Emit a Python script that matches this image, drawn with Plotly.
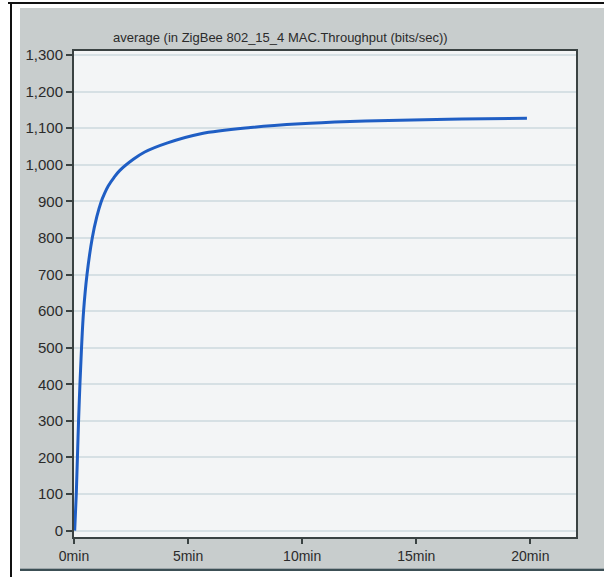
import plotly.graph_objects as go

# Data
time_min = [0.03, 0.10, 0.15, 0.20, 0.26, 0.33, 0.42, 0.57, 0.80, 1.00, 1.18, 1.35, 1.50,
            1.75, 2.00, 2.60, 3.10, 4.10, 5.56, 7.74, 9.93, 12.1, 14.3, 17.0, 19.85]
throughput = [0, 100, 200, 300, 400, 500, 600, 700, 800, 858, 897, 923, 942,
              965, 984, 1015, 1035, 1060, 1085, 1102, 1112, 1118, 1122, 1125, 1127]
x_tick_vals = [0, 5, 10, 15, 20]
x_tick_text = ["0min", "5min", "10min", "15min", "20min"]
y_tick_vals = list(range(0, 1301, 100))
title_text = "average (in ZigBee 802_15_4 MAC.Throughput (bits/sec))"

W, H = 604, 577
L, R, T, B = 74, 28, 51, 40
PW, PH = W - L - R, H - T - B


def px(xp):
    return (xp - L) / PW


def py(yp):
    return (H - B - yp) / PH


fig = go.Figure()
fig.add_trace(go.Scatter(
    x=time_min, y=throughput, mode="lines",
    line=dict(color="#1f5ec4", width=3, shape="spline", smoothing=1.0),
    hoverinfo="skip", showlegend=False,
))

font = dict(family="Liberation Sans, Arial, sans-serif", size=14, color="#2b2b2b")

shapes = []


def rect(x0, y0, x1, y1, color):
    shapes.append(dict(type="rect", xref="paper", yref="paper",
                       x0=px(x0), x1=px(x1), y0=py(y1), y1=py(y0),
                       fillcolor=color, line=dict(width=0), layer="below"))


# white margins around the gray panel
rect(0, 0, 20, H, "white")
rect(0, 0, W, 8, "white")
rect(0, 568, W, H, "white")
# frame lines
rect(10, 2, 12, H, "#111111")
rect(8, 2, W, 4, "#111111")
rect(20, 568.5, W, 571, "#3c4f55")

fig.update_layout(
    width=W, height=H,
    margin=dict(l=L, r=R, t=T, b=B, pad=0),
    paper_bgcolor="#c8cdcd",
    plot_bgcolor="#f3f5f6",
    font=font,
    shapes=shapes,
    annotations=[dict(text=title_text, xref="paper", yref="paper",
                      x=px(280), y=py(38), xanchor="center", yanchor="middle",
                      showarrow=False, font=dict(size=13, color="#2b2b2b",
                                                  family="Liberation Sans, Arial, sans-serif"))],
    xaxis=dict(range=[0, 22], tickvals=x_tick_vals, ticktext=x_tick_text,
               showgrid=False, zeroline=False, showline=True, mirror=True,
               linecolor="#3a4242", linewidth=2, ticks="outside", ticklen=5,
               tickcolor="#3a4242", tickwidth=1.5, fixedrange=True),
    yaxis=dict(range=[-17.5, 1311], tickvals=y_tick_vals, tickformat=",d",
               tickfont=dict(size=15),
               showgrid=True, gridcolor="#d6e0e4", gridwidth=1.5, zeroline=False,
               showline=True, mirror=True, linecolor="#3a4242", linewidth=2,
               ticks="outside", ticklen=6, tickcolor="#3a4242", tickwidth=1.5,
               fixedrange=True),
)

fig.write_html("out.html")
